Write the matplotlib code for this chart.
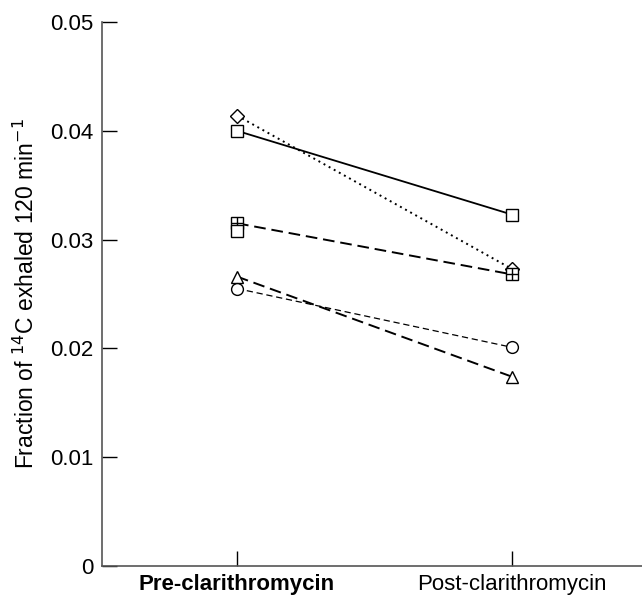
import matplotlib
matplotlib.use("Agg")
import matplotlib.pyplot as plt

plt.rcParams['font.family'] = ['Liberation Sans', 'DejaVu Sans']

groups = ["Pre-clarithromycin", "Post-clarithromycin"]
xpos = [1, 2]

# one list per subject: pre, post
diamond = [0.0414, 0.0273]
square = [0.0400, 0.0323]
crossed = [0.0315, 0.0268]
square2 = [0.0308]
triangle = [0.0266, 0.0174]
circle = [0.0255, 0.0201]

fig = plt.figure(figsize=(6.42, 5.96), dpi=100)
ax = fig.add_axes([102/642, 30/596, 540/642, 544/596])

mk = dict(mfc="white", mec="black", color="black", mew=1.0, ms=8.5)
ax.plot(xpos, diamond, ls=(0, (1, 2)), lw=1.4, marker="D", **{**mk, "ms": 7.5})
ax.plot(xpos, square, ls="-", lw=1.3, marker="s", **mk)
ax.plot(xpos, crossed, ls=(0, (6, 3)), lw=1.4, marker="s", **mk)
ax.plot(xpos, crossed, ls="none", marker="+", color="black", mew=1.0, ms=8.5)
ax.plot(xpos[:1], square2, ls="none", marker="s", **mk)
ax.plot(xpos, triangle, ls=(0, (6, 3)), lw=1.4, marker="^", **mk)
ax.plot(xpos, circle, ls=(0, (5, 3)), lw=0.9, marker="o", **mk)

ax.set_xlim(0.509, 2.473)
ax.set_ylim(0, 0.05)
ax.set_yticks([0, 0.01, 0.02, 0.03, 0.04, 0.05])
ax.set_yticklabels(["0", "0.01", "0.02", "0.03", "0.04", "0.05"])
ax.set_xticks(xpos)
ax.set_xticklabels(groups)
ax.get_xticklabels()[0].set_fontweight("bold")
ax.get_xticklabels()[0].set_fontsize(15)

for s in ["top", "right"]:
    ax.spines[s].set_visible(False)
for s in ["left", "bottom"]:
    ax.spines[s].set_color("#555555")
    ax.spines[s].set_linewidth(1.2)

ax.tick_params(axis="y", direction="in", length=11, width=1, labelsize=16, pad=6, colors="black")
ax.tick_params(axis="x", direction="in", length=11, width=1, labelsize=16, pad=6, colors="black")
for t in ax.get_xticklines() + ax.get_yticklines():
    t.set_color("#555555")

ax.set_ylabel("Fraction of $^{14}$C exhaled 120 min$^{-1}$", fontsize=16.5, labelpad=8)

fig.savefig("out.png", dpi=100)
